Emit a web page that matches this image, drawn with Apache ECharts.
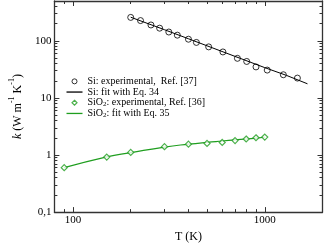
<!DOCTYPE html>
<html>
<head>
<meta charset="utf-8">
<script src="https://cdn.jsdelivr.net/npm/echarts@6/dist/echarts.min.js"></script>
<style>html,body{margin:0;padding:0;background:#fff}#c{width:325px;height:248px}</style>
</head>
<body>
<div id="c"></div>
<script>
// ---- data ----
const siT = [200, 225, 255, 283, 316, 350, 400, 440, 510, 605, 720, 805, 900, 1030, 1250, 1480];
const siK = [258, 227, 190, 167, 143, 126, 107, 94, 78.5, 64, 49.5, 43.6, 35, 30.8, 25.5, 22.3];
const siFitT = [200, 300, 400, 500, 700, 1000, 1300, 1670];
const siFitK = [260, 157, 109, 82, 53.5, 34, 24.8, 17.7];
const sio2T = [90, 150, 200, 300, 400, 500, 600, 700, 800, 900, 1000];
const sio2K = [0.6, 0.92, 1.11, 1.4, 1.55, 1.6, 1.66, 1.79, 1.91, 2.01, 2.06];
const sio2FitT = [90, 150, 200, 300, 400, 500, 600, 700, 800, 900, 1000];
const sio2FitK = [0.6, 0.93, 1.1, 1.38, 1.55, 1.67, 1.76, 1.84, 1.91, 1.98, 2.05];
const xMajor = [100, 1000];
const xMinor = [90, 200, 300, 400, 500, 600, 700, 800, 900, 2000];
const yMajor = [0.1, 1, 10, 100];
const yMinor = [0.2, 0.3, 0.4, 0.5, 0.6, 0.7, 0.8, 0.9, 2, 3, 4, 5, 6, 7, 8, 9, 20, 30, 40, 50, 60, 70, 80, 90, 200, 300, 400];
const names = ['Si: experimental,  Ref. [37]', 'Si: fit with Eq. 34', 'SiO2: experimental, Ref. [36]', 'SiO2: fit with Eq. 35'];

const FONT = 'Liberation Serif';
const GREEN = '#1f9e1f';
const AX = '#333';
const zip = (a, b) => a.map((v, i) => [v, b[i]]);

function xAx(pos, major, showLabel) {
  return {
    type: 'log', min: 80, max: 2000, position: pos, gridIndex: 0,
    axisLine: { show: major, lineStyle: { color: AX, width: 1.3 } },
    axisTick: { show: true, inside: true, length: major ? 5 : 3, customValues: major ? xMajor : xMinor, lineStyle: { color: AX, width: 1 } },
    axisLabel: showLabel ? { show: true, customValues: xMajor, fontFamily: FONT, fontSize: 11, color: '#000', margin: 3,
      formatter: v => String(Math.round(v)) } : { show: false },
    splitLine: { show: false }, minorTick: { show: false },
    name: showLabel ? 'T (K)' : '', nameLocation: 'middle', nameGap: 16,
    nameTextStyle: { fontFamily: FONT, fontSize: 12, color: '#000' }
  };
}
function yAx(pos, major, showLabel) {
  return {
    type: 'log', min: 0.1, max: 500, position: pos, gridIndex: 0,
    axisLine: { show: major, lineStyle: { color: AX, width: 1.3 } },
    axisTick: { show: true, inside: true, length: major ? 5 : 3, customValues: major ? yMajor : yMinor, lineStyle: { color: AX, width: 1 } },
    axisLabel: showLabel ? { show: true, customValues: yMajor, fontFamily: FONT, fontSize: 11, color: '#000', margin: 3,
      formatter: v => (Math.abs(v - 0.1) < 1e-9 ? '0,1' : String(Math.round(v))) } : { show: false },
    splitLine: { show: false }, minorTick: { show: false },
    name: showLabel ? '{i|k}{n| (W m}{s|-1}{n| K}{s|-1}{n|)}' : '', nameLocation: 'middle', nameGap: 24, nameRotate: 90,
    nameTextStyle: { fontFamily: FONT, fontSize: 12, color: '#000',
      rich: {
        i: { fontFamily: FONT, fontSize: 12, fontStyle: 'italic', color: '#000', lineHeight: 16, verticalAlign: 'bottom' },
        n: { fontFamily: FONT, fontSize: 12, color: '#000', lineHeight: 16, verticalAlign: 'bottom' },
        s: { fontFamily: FONT, fontSize: 8, color: '#000', lineHeight: 16, verticalAlign: 'top' }
      } }
  };
}

const LINEICON = 'path://M0,0H16V1.3H0Z';
const DIAMONDICON = 'path://M0,-1L1,0L0,1L-1,0Z';
const chart = echarts.init(document.getElementById('c'), null, { renderer: 'canvas' });
chart.setOption({
  animation: false,
  backgroundColor: '#fff',
  grid: { left: 39.5, right: 2.5, top: 1, bottom: 25.5, containLabel: false },
  xAxis: [xAx('bottom', true, true), xAx('bottom', false, false), xAx('top', true, false), xAx('top', false, false)],
  yAxis: [yAx('left', true, true), yAx('left', false, false), yAx('right', true, false), yAx('right', false, false)],
  legend: {
    orient: 'vertical', left: 66.5, top: 76, padding: 0, itemWidth: 16, itemHeight: 5, itemGap: 0,
    data: [
      { name: names[0], icon: 'circle', itemStyle: { color: '#fff', borderColor: '#000', borderWidth: 1 } },
      { name: names[1], icon: LINEICON, itemStyle: { color: '#000', borderWidth: 0 } },
      { name: names[2], icon: DIAMONDICON, itemStyle: { color: '#fff', borderColor: GREEN, borderWidth: 1.2 } },
      { name: names[3], icon: LINEICON, itemStyle: { color: GREEN, borderWidth: 0 } }
    ],
    formatter: n => {
      if (n.startsWith('SiO2')) return '{n|SiO}{b|2}{n|' + n.slice(4) + '}';
      return '{n|' + n + '}';
    },
    textStyle: { fontFamily: FONT, fontSize: 10, color: '#000', lineHeight: 10.7,
      rich: {
        n: { fontFamily: FONT, fontSize: 10, color: '#000', lineHeight: 10.7 },
        b: { fontFamily: FONT, fontSize: 7, color: '#000', lineHeight: 10.7, verticalAlign: 'bottom' }
      } }
  },
  series: [
    { name: names[0], type: 'scatter', xAxisIndex: 0, yAxisIndex: 0, data: zip(siT, siK), symbol: 'circle', symbolSize: 6,
      itemStyle: { color: 'rgba(255,255,255,0)', borderColor: '#000', borderWidth: 1 }, z: 5 },
    { name: names[1], type: 'line', xAxisIndex: 0, yAxisIndex: 0, data: zip(siFitT, siFitK), symbol: 'none', smooth: false,
      lineStyle: { color: '#000', width: 1 }, itemStyle: { color: '#000' } },
    { name: names[2], type: 'scatter', xAxisIndex: 0, yAxisIndex: 0, data: zip(sio2T, sio2K), symbol: 'diamond', symbolSize: 6,
      itemStyle: { color: '#fff', borderColor: GREEN, borderWidth: 1.2 }, z: 5 },
    { name: names[3], type: 'line', xAxisIndex: 0, yAxisIndex: 0, data: zip(sio2FitT, sio2FitK), symbol: 'none', smooth: true,
      lineStyle: { color: GREEN, width: 1.2 }, itemStyle: { color: GREEN } }
  ]
});
</script>
</body>
</html>
